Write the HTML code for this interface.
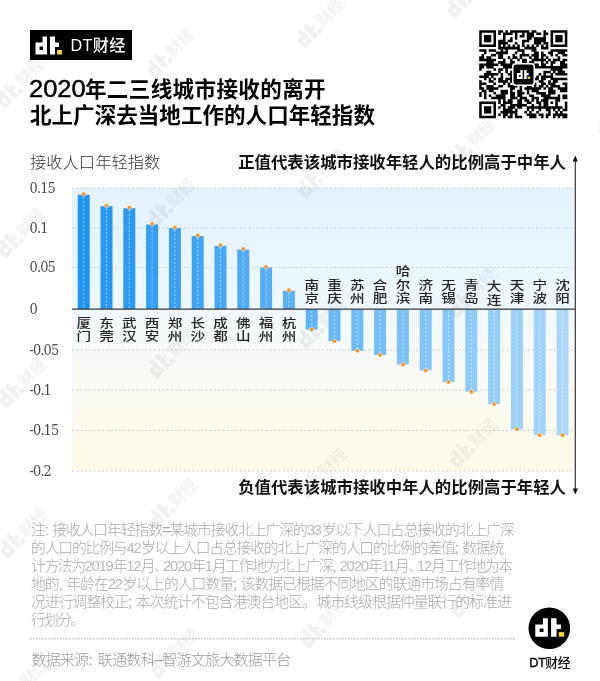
<!DOCTYPE html>
<html lang="zh-CN"><head><meta charset="utf-8"><title>DT财经</title>
<style>
html,body{margin:0;padding:0;background:#fff}
body{width:600px;height:681px;position:relative;overflow:hidden;font-family:"Liberation Sans","Noto Sans CJK SC",sans-serif;color:#000}
.abs{position:absolute;white-space:nowrap}
#badge{left:30px;top:30px;width:102px;height:30px;background:#000}
#badge span{position:absolute;left:40.5px;top:0;line-height:30.5px;font-size:16.2px;color:#fff;font-weight:500;letter-spacing:0.35px}
.tt{left:30px;font-size:21.5px;line-height:26px;font-weight:700}
#t1{top:76.8px;letter-spacing:0.42px}
#t2{top:102.8px;letter-spacing:0.06px}
#t1 b{display:inline-block;font-size:23.2px;line-height:20px;transform:scaleX(1.10);transform-origin:0 50%;margin-left:-1px;margin-right:4.3px;font-weight:400;letter-spacing:0;-webkit-text-stroke:0.45px #000}
#ylab{left:30px;top:150px;font-size:16.3px;line-height:24px;font-weight:300;color:#333}
.ann{font-size:16.4px;line-height:24px;font-weight:700;color:#111}
#ann1{right:34px;top:150px}
#ann2{right:34px;top:475px}
.nl{left:31px;height:18px;font-size:14.8px;line-height:18px;font-weight:300;color:#a9a9a9;letter-spacing:-1.7px;text-align:justify;text-align-last:justify;text-justify:inter-character;white-space:nowrap;overflow:visible;word-spacing:2px}
.nl i{font-style:normal;color:#b9b9b9;letter-spacing:-1.2px}
.nl u{text-decoration:none;margin-right:-4.5px}
#src{left:31.5px;top:650px;width:258.5px;font-size:15px;line-height:20px;font-weight:300;color:#999;letter-spacing:-1.2px;text-align:justify;text-align-last:justify;text-justify:inter-character;word-spacing:3px}
#brand b{font-weight:400;-webkit-text-stroke:0.35px #000}
#src b{font-weight:300;position:relative;top:-1.5px}
#brand{left:519.6px;top:653.2px;width:60px;text-align:center;font-size:12.8px;line-height:20px;font-weight:500;letter-spacing:-0.5px}
svg{position:absolute;left:0;top:0}
.yl{font-family:"DejaVu Serif","Liberation Serif",serif;font-stretch:condensed;font-size:14.4px;fill:#484848;letter-spacing:-0.9px}
.cl{font-size:14px;fill:#222;font-weight:500;text-anchor:middle}
.wm{font-size:16px;font-weight:700}
</style></head><body>

<svg width="600" height="681" viewBox="0 0 600 681">
<defs>
<linearGradient id="gt" x1="0" y1="0" x2="0" y2="1"><stop offset="0" stop-color="#e3f2fd"/><stop offset="1" stop-color="#eef7fd"/></linearGradient>
<linearGradient id="gb" x1="0" y1="0" x2="0" y2="1"><stop offset="0" stop-color="#f1f8fc"/><stop offset="0.45" stop-color="#fbfbf5"/><stop offset="1" stop-color="#fffae8"/></linearGradient>
</defs>
<rect x="72" y="188" width="502" height="121.2" fill="url(#gt)"/>
<rect x="72" y="309.2" width="502" height="161.8" fill="url(#gb)"/>
<line x1="72" x2="574" y1="188" y2="188" stroke="#c3cacf" stroke-width="0.9" stroke-dasharray="2 2.3"/>
<line x1="72" x2="574" y1="228" y2="228" stroke="#c3cacf" stroke-width="0.9" stroke-dasharray="2 2.3"/>
<line x1="72" x2="574" y1="267.5" y2="267.5" stroke="#c3cacf" stroke-width="0.9" stroke-dasharray="2 2.3"/>
<line x1="72" x2="574" y1="350" y2="350" stroke="#c3cacf" stroke-width="0.9" stroke-dasharray="2 2.3"/>
<line x1="72" x2="574" y1="390" y2="390" stroke="#c3cacf" stroke-width="0.9" stroke-dasharray="2 2.3"/>
<line x1="72" x2="574" y1="430.5" y2="430.5" stroke="#c3cacf" stroke-width="0.9" stroke-dasharray="2 2.3"/>
<line x1="72" x2="574" y1="471" y2="471" stroke="#c3cacf" stroke-width="0.9" stroke-dasharray="2 2.3"/>
<g id="wms">
<g transform="translate(-1 103) rotate(-45)" fill="#000" fill-opacity="0.05"><path d="M6.79 -9.00h4.37v17.46h-11.15v-11.64h6.79zM3.88 0.70v3.40h3.40v-3.40z" fill="#000" fill-rule="evenodd"/><path d="M14.06 -9.00h4.85v5.82h3.88v4.37h-3.88v7.27h-4.85z" fill="#000"/><rect x="20.86" y="4.09" width="4.85" height="4.37" fill="#000"/><text class="wm" x="27.5" y="6">财经</text></g>
<g transform="translate(0 253) rotate(-45)" fill="#000" fill-opacity="0.05"><path d="M6.79 -9.00h4.37v17.46h-11.15v-11.64h6.79zM3.88 0.70v3.40h3.40v-3.40z" fill="#000" fill-rule="evenodd"/><path d="M14.06 -9.00h4.85v5.82h3.88v4.37h-3.88v7.27h-4.85z" fill="#000"/><rect x="20.86" y="4.09" width="4.85" height="4.37" fill="#000"/><text class="wm" x="27.5" y="6">财经</text></g>
<g transform="translate(1 403) rotate(-45)" fill="#000" fill-opacity="0.05"><path d="M6.79 -9.00h4.37v17.46h-11.15v-11.64h6.79zM3.88 0.70v3.40h3.40v-3.40z" fill="#000" fill-rule="evenodd"/><path d="M14.06 -9.00h4.85v5.82h3.88v4.37h-3.88v7.27h-4.85z" fill="#000"/><rect x="20.86" y="4.09" width="4.85" height="4.37" fill="#000"/><text class="wm" x="27.5" y="6">财经</text></g>
<g transform="translate(2 553) rotate(-45)" fill="#000" fill-opacity="0.05"><path d="M6.79 -9.00h4.37v17.46h-11.15v-11.64h6.79zM3.88 0.70v3.40h3.40v-3.40z" fill="#000" fill-rule="evenodd"/><path d="M14.06 -9.00h4.85v5.82h3.88v4.37h-3.88v7.27h-4.85z" fill="#000"/><rect x="20.86" y="4.09" width="4.85" height="4.37" fill="#000"/><text class="wm" x="27.5" y="6">财经</text></g>
<g transform="translate(3 703) rotate(-45)" fill="#000" fill-opacity="0.05"><path d="M6.79 -9.00h4.37v17.46h-11.15v-11.64h6.79zM3.88 0.70v3.40h3.40v-3.40z" fill="#000" fill-rule="evenodd"/><path d="M14.06 -9.00h4.85v5.82h3.88v4.37h-3.88v7.27h-4.85z" fill="#000"/><rect x="20.86" y="4.09" width="4.85" height="4.37" fill="#000"/><text class="wm" x="27.5" y="6">财经</text></g>
<g transform="translate(149 73) rotate(-45)" fill="#000" fill-opacity="0.05"><path d="M6.79 -9.00h4.37v17.46h-11.15v-11.64h6.79zM3.88 0.70v3.40h3.40v-3.40z" fill="#000" fill-rule="evenodd"/><path d="M14.06 -9.00h4.85v5.82h3.88v4.37h-3.88v7.27h-4.85z" fill="#000"/><rect x="20.86" y="4.09" width="4.85" height="4.37" fill="#000"/><text class="wm" x="27.5" y="6">财经</text></g>
<g transform="translate(150 223) rotate(-45)" fill="#000" fill-opacity="0.05"><path d="M6.79 -9.00h4.37v17.46h-11.15v-11.64h6.79zM3.88 0.70v3.40h3.40v-3.40z" fill="#000" fill-rule="evenodd"/><path d="M14.06 -9.00h4.85v5.82h3.88v4.37h-3.88v7.27h-4.85z" fill="#000"/><rect x="20.86" y="4.09" width="4.85" height="4.37" fill="#000"/><text class="wm" x="27.5" y="6">财经</text></g>
<g transform="translate(151 373) rotate(-45)" fill="#000" fill-opacity="0.05"><path d="M6.79 -9.00h4.37v17.46h-11.15v-11.64h6.79zM3.88 0.70v3.40h3.40v-3.40z" fill="#000" fill-rule="evenodd"/><path d="M14.06 -9.00h4.85v5.82h3.88v4.37h-3.88v7.27h-4.85z" fill="#000"/><rect x="20.86" y="4.09" width="4.85" height="4.37" fill="#000"/><text class="wm" x="27.5" y="6">财经</text></g>
<g transform="translate(152 523) rotate(-45)" fill="#000" fill-opacity="0.05"><path d="M6.79 -9.00h4.37v17.46h-11.15v-11.64h6.79zM3.88 0.70v3.40h3.40v-3.40z" fill="#000" fill-rule="evenodd"/><path d="M14.06 -9.00h4.85v5.82h3.88v4.37h-3.88v7.27h-4.85z" fill="#000"/><rect x="20.86" y="4.09" width="4.85" height="4.37" fill="#000"/><text class="wm" x="27.5" y="6">财经</text></g>
<g transform="translate(153 673) rotate(-45)" fill="#000" fill-opacity="0.05"><path d="M6.79 -9.00h4.37v17.46h-11.15v-11.64h6.79zM3.88 0.70v3.40h3.40v-3.40z" fill="#000" fill-rule="evenodd"/><path d="M14.06 -9.00h4.85v5.82h3.88v4.37h-3.88v7.27h-4.85z" fill="#000"/><rect x="20.86" y="4.09" width="4.85" height="4.37" fill="#000"/><text class="wm" x="27.5" y="6">财经</text></g>
<g transform="translate(299 43) rotate(-45)" fill="#000" fill-opacity="0.05"><path d="M6.79 -9.00h4.37v17.46h-11.15v-11.64h6.79zM3.88 0.70v3.40h3.40v-3.40z" fill="#000" fill-rule="evenodd"/><path d="M14.06 -9.00h4.85v5.82h3.88v4.37h-3.88v7.27h-4.85z" fill="#000"/><rect x="20.86" y="4.09" width="4.85" height="4.37" fill="#000"/><text class="wm" x="27.5" y="6">财经</text></g>
<g transform="translate(300 193) rotate(-45)" fill="#000" fill-opacity="0.05"><path d="M6.79 -9.00h4.37v17.46h-11.15v-11.64h6.79zM3.88 0.70v3.40h3.40v-3.40z" fill="#000" fill-rule="evenodd"/><path d="M14.06 -9.00h4.85v5.82h3.88v4.37h-3.88v7.27h-4.85z" fill="#000"/><rect x="20.86" y="4.09" width="4.85" height="4.37" fill="#000"/><text class="wm" x="27.5" y="6">财经</text></g>
<g transform="translate(301 343) rotate(-45)" fill="#000" fill-opacity="0.05"><path d="M6.79 -9.00h4.37v17.46h-11.15v-11.64h6.79zM3.88 0.70v3.40h3.40v-3.40z" fill="#000" fill-rule="evenodd"/><path d="M14.06 -9.00h4.85v5.82h3.88v4.37h-3.88v7.27h-4.85z" fill="#000"/><rect x="20.86" y="4.09" width="4.85" height="4.37" fill="#000"/><text class="wm" x="27.5" y="6">财经</text></g>
<g transform="translate(302 493) rotate(-45)" fill="#000" fill-opacity="0.05"><path d="M6.79 -9.00h4.37v17.46h-11.15v-11.64h6.79zM3.88 0.70v3.40h3.40v-3.40z" fill="#000" fill-rule="evenodd"/><path d="M14.06 -9.00h4.85v5.82h3.88v4.37h-3.88v7.27h-4.85z" fill="#000"/><rect x="20.86" y="4.09" width="4.85" height="4.37" fill="#000"/><text class="wm" x="27.5" y="6">财经</text></g>
<g transform="translate(303 643) rotate(-45)" fill="#000" fill-opacity="0.05"><path d="M6.79 -9.00h4.37v17.46h-11.15v-11.64h6.79zM3.88 0.70v3.40h3.40v-3.40z" fill="#000" fill-rule="evenodd"/><path d="M14.06 -9.00h4.85v5.82h3.88v4.37h-3.88v7.27h-4.85z" fill="#000"/><rect x="20.86" y="4.09" width="4.85" height="4.37" fill="#000"/><text class="wm" x="27.5" y="6">财经</text></g>
<g transform="translate(449 13) rotate(-45)" fill="#000" fill-opacity="0.05"><path d="M6.79 -9.00h4.37v17.46h-11.15v-11.64h6.79zM3.88 0.70v3.40h3.40v-3.40z" fill="#000" fill-rule="evenodd"/><path d="M14.06 -9.00h4.85v5.82h3.88v4.37h-3.88v7.27h-4.85z" fill="#000"/><rect x="20.86" y="4.09" width="4.85" height="4.37" fill="#000"/><text class="wm" x="27.5" y="6">财经</text></g>
<g transform="translate(450 163) rotate(-45)" fill="#000" fill-opacity="0.05"><path d="M6.79 -9.00h4.37v17.46h-11.15v-11.64h6.79zM3.88 0.70v3.40h3.40v-3.40z" fill="#000" fill-rule="evenodd"/><path d="M14.06 -9.00h4.85v5.82h3.88v4.37h-3.88v7.27h-4.85z" fill="#000"/><rect x="20.86" y="4.09" width="4.85" height="4.37" fill="#000"/><text class="wm" x="27.5" y="6">财经</text></g>
<g transform="translate(451 313) rotate(-45)" fill="#000" fill-opacity="0.05"><path d="M6.79 -9.00h4.37v17.46h-11.15v-11.64h6.79zM3.88 0.70v3.40h3.40v-3.40z" fill="#000" fill-rule="evenodd"/><path d="M14.06 -9.00h4.85v5.82h3.88v4.37h-3.88v7.27h-4.85z" fill="#000"/><rect x="20.86" y="4.09" width="4.85" height="4.37" fill="#000"/><text class="wm" x="27.5" y="6">财经</text></g>
<g transform="translate(452 463) rotate(-45)" fill="#000" fill-opacity="0.05"><path d="M6.79 -9.00h4.37v17.46h-11.15v-11.64h6.79zM3.88 0.70v3.40h3.40v-3.40z" fill="#000" fill-rule="evenodd"/><path d="M14.06 -9.00h4.85v5.82h3.88v4.37h-3.88v7.27h-4.85z" fill="#000"/><rect x="20.86" y="4.09" width="4.85" height="4.37" fill="#000"/><text class="wm" x="27.5" y="6">财经</text></g>
<g transform="translate(453 613) rotate(-45)" fill="#000" fill-opacity="0.05"><path d="M6.79 -9.00h4.37v17.46h-11.15v-11.64h6.79zM3.88 0.70v3.40h3.40v-3.40z" fill="#000" fill-rule="evenodd"/><path d="M14.06 -9.00h4.85v5.82h3.88v4.37h-3.88v7.27h-4.85z" fill="#000"/><rect x="20.86" y="4.09" width="4.85" height="4.37" fill="#000"/><text class="wm" x="27.5" y="6">财经</text></g>
<g transform="translate(599 -17) rotate(-45)" fill="#000" fill-opacity="0.05"><path d="M6.79 -9.00h4.37v17.46h-11.15v-11.64h6.79zM3.88 0.70v3.40h3.40v-3.40z" fill="#000" fill-rule="evenodd"/><path d="M14.06 -9.00h4.85v5.82h3.88v4.37h-3.88v7.27h-4.85z" fill="#000"/><rect x="20.86" y="4.09" width="4.85" height="4.37" fill="#000"/><text class="wm" x="27.5" y="6">财经</text></g>
<g transform="translate(600 133) rotate(-45)" fill="#000" fill-opacity="0.05"><path d="M6.79 -9.00h4.37v17.46h-11.15v-11.64h6.79zM3.88 0.70v3.40h3.40v-3.40z" fill="#000" fill-rule="evenodd"/><path d="M14.06 -9.00h4.85v5.82h3.88v4.37h-3.88v7.27h-4.85z" fill="#000"/><rect x="20.86" y="4.09" width="4.85" height="4.37" fill="#000"/><text class="wm" x="27.5" y="6">财经</text></g>
<g transform="translate(601 283) rotate(-45)" fill="#000" fill-opacity="0.05"><path d="M6.79 -9.00h4.37v17.46h-11.15v-11.64h6.79zM3.88 0.70v3.40h3.40v-3.40z" fill="#000" fill-rule="evenodd"/><path d="M14.06 -9.00h4.85v5.82h3.88v4.37h-3.88v7.27h-4.85z" fill="#000"/><rect x="20.86" y="4.09" width="4.85" height="4.37" fill="#000"/><text class="wm" x="27.5" y="6">财经</text></g>
<g transform="translate(602 433) rotate(-45)" fill="#000" fill-opacity="0.05"><path d="M6.79 -9.00h4.37v17.46h-11.15v-11.64h6.79zM3.88 0.70v3.40h3.40v-3.40z" fill="#000" fill-rule="evenodd"/><path d="M14.06 -9.00h4.85v5.82h3.88v4.37h-3.88v7.27h-4.85z" fill="#000"/><rect x="20.86" y="4.09" width="4.85" height="4.37" fill="#000"/><text class="wm" x="27.5" y="6">财经</text></g>
<g transform="translate(603 583) rotate(-45)" fill="#000" fill-opacity="0.05"><path d="M6.79 -9.00h4.37v17.46h-11.15v-11.64h6.79zM3.88 0.70v3.40h3.40v-3.40z" fill="#000" fill-rule="evenodd"/><path d="M14.06 -9.00h4.85v5.82h3.88v4.37h-3.88v7.27h-4.85z" fill="#000"/><rect x="20.86" y="4.09" width="4.85" height="4.37" fill="#000"/><text class="wm" x="27.5" y="6">财经</text></g>
<g transform="translate(604 733) rotate(-45)" fill="#000" fill-opacity="0.05"><path d="M6.79 -9.00h4.37v17.46h-11.15v-11.64h6.79zM3.88 0.70v3.40h3.40v-3.40z" fill="#000" fill-rule="evenodd"/><path d="M14.06 -9.00h4.85v5.82h3.88v4.37h-3.88v7.27h-4.85z" fill="#000"/><rect x="20.86" y="4.09" width="4.85" height="4.37" fill="#000"/><text class="wm" x="27.5" y="6">财经</text></g>
</g>
<rect x="77.70" y="194.80" width="12" height="114.40" fill="#2095f3"/>
<line x1="83.70" x2="83.70" y1="196.80" y2="309.20" stroke="#fff" stroke-opacity="0.7" stroke-width="0.85" stroke-dasharray="2 2"/>
<rect x="100.50" y="206.20" width="12" height="103.00" fill="#2798f3"/>
<line x1="106.50" x2="106.50" y1="208.20" y2="309.20" stroke="#fff" stroke-opacity="0.7" stroke-width="0.85" stroke-dasharray="2 2"/>
<rect x="123.30" y="208.20" width="12" height="101.00" fill="#2d9bf4"/>
<line x1="129.30" x2="129.30" y1="210.20" y2="309.20" stroke="#fff" stroke-opacity="0.7" stroke-width="0.85" stroke-dasharray="2 2"/>
<rect x="146.10" y="224.50" width="12" height="84.70" fill="#349ef4"/>
<line x1="152.10" x2="152.10" y1="226.50" y2="309.20" stroke="#fff" stroke-opacity="0.7" stroke-width="0.85" stroke-dasharray="2 2"/>
<rect x="168.90" y="228.00" width="12" height="81.20" fill="#3aa2f5"/>
<line x1="174.90" x2="174.90" y1="230.00" y2="309.20" stroke="#fff" stroke-opacity="0.7" stroke-width="0.85" stroke-dasharray="2 2"/>
<rect x="191.70" y="236.00" width="12" height="73.20" fill="#41a5f5"/>
<line x1="197.70" x2="197.70" y1="238.00" y2="309.20" stroke="#fff" stroke-opacity="0.7" stroke-width="0.85" stroke-dasharray="2 2"/>
<rect x="214.50" y="245.80" width="12" height="63.40" fill="#47a8f5"/>
<line x1="220.50" x2="220.50" y1="247.80" y2="309.20" stroke="#fff" stroke-opacity="0.7" stroke-width="0.85" stroke-dasharray="2 2"/>
<rect x="237.30" y="249.50" width="12" height="59.70" fill="#4eabf6"/>
<line x1="243.30" x2="243.30" y1="251.50" y2="309.20" stroke="#fff" stroke-opacity="0.7" stroke-width="0.85" stroke-dasharray="2 2"/>
<rect x="260.10" y="267.50" width="12" height="41.70" fill="#55aef6"/>
<line x1="266.10" x2="266.10" y1="269.50" y2="309.20" stroke="#fff" stroke-opacity="0.7" stroke-width="0.85" stroke-dasharray="2 2"/>
<rect x="282.90" y="290.80" width="12" height="18.40" fill="#5bb1f6"/>
<line x1="288.90" x2="288.90" y1="292.80" y2="309.20" stroke="#fff" stroke-opacity="0.7" stroke-width="0.85" stroke-dasharray="2 2"/>
<rect x="305.70" y="309.20" width="12" height="20.30" fill="#62b4f7"/>
<line x1="311.70" x2="311.70" y1="311.20" y2="329.50" stroke="#fff" stroke-opacity="0.7" stroke-width="0.85" stroke-dasharray="2 2"/>
<rect x="328.50" y="309.20" width="12" height="32.00" fill="#68b8f7"/>
<line x1="334.50" x2="334.50" y1="311.20" y2="341.20" stroke="#fff" stroke-opacity="0.7" stroke-width="0.85" stroke-dasharray="2 2"/>
<rect x="351.30" y="309.20" width="12" height="41.60" fill="#6fbbf8"/>
<line x1="357.30" x2="357.30" y1="311.20" y2="350.80" stroke="#fff" stroke-opacity="0.7" stroke-width="0.85" stroke-dasharray="2 2"/>
<rect x="374.10" y="309.20" width="12" height="45.80" fill="#75bef8"/>
<line x1="380.10" x2="380.10" y1="311.20" y2="355.00" stroke="#fff" stroke-opacity="0.7" stroke-width="0.85" stroke-dasharray="2 2"/>
<rect x="396.90" y="309.20" width="12" height="55.30" fill="#7cc1f8"/>
<line x1="402.90" x2="402.90" y1="311.20" y2="364.50" stroke="#fff" stroke-opacity="0.7" stroke-width="0.85" stroke-dasharray="2 2"/>
<rect x="419.70" y="309.20" width="12" height="61.30" fill="#83c4f9"/>
<line x1="425.70" x2="425.70" y1="311.20" y2="370.50" stroke="#fff" stroke-opacity="0.7" stroke-width="0.85" stroke-dasharray="2 2"/>
<rect x="442.50" y="309.20" width="12" height="72.90" fill="#89c7f9"/>
<line x1="448.50" x2="448.50" y1="311.20" y2="382.10" stroke="#fff" stroke-opacity="0.7" stroke-width="0.85" stroke-dasharray="2 2"/>
<rect x="465.30" y="309.20" width="12" height="82.60" fill="#90caf9"/>
<line x1="471.30" x2="471.30" y1="311.20" y2="391.80" stroke="#fff" stroke-opacity="0.7" stroke-width="0.85" stroke-dasharray="2 2"/>
<rect x="488.10" y="309.20" width="12" height="95.00" fill="#96cefa"/>
<line x1="494.10" x2="494.10" y1="311.20" y2="404.20" stroke="#fff" stroke-opacity="0.7" stroke-width="0.85" stroke-dasharray="2 2"/>
<rect x="510.90" y="309.20" width="12" height="120.10" fill="#9dd1fa"/>
<line x1="516.90" x2="516.90" y1="311.20" y2="429.30" stroke="#fff" stroke-opacity="0.7" stroke-width="0.85" stroke-dasharray="2 2"/>
<rect x="533.70" y="309.20" width="12" height="126.00" fill="#a3d4fb"/>
<line x1="539.70" x2="539.70" y1="311.20" y2="435.20" stroke="#fff" stroke-opacity="0.7" stroke-width="0.85" stroke-dasharray="2 2"/>
<rect x="556.50" y="309.20" width="12" height="126.00" fill="#aad7fb"/>
<line x1="562.50" x2="562.50" y1="311.20" y2="435.20" stroke="#fff" stroke-opacity="0.7" stroke-width="0.85" stroke-dasharray="2 2"/>
<line x1="72" x2="575" y1="309.2" y2="309.2" stroke="#383838" stroke-width="1.25"/>
<circle cx="83.70" cy="194.20" r="2.15" fill="#f39323" stroke="#fff" stroke-opacity="0.6" stroke-width="0.8"/>
<circle cx="106.50" cy="205.60" r="2.15" fill="#f39323" stroke="#fff" stroke-opacity="0.6" stroke-width="0.8"/>
<circle cx="129.30" cy="207.60" r="2.15" fill="#f39323" stroke="#fff" stroke-opacity="0.6" stroke-width="0.8"/>
<circle cx="152.10" cy="223.90" r="2.15" fill="#f39323" stroke="#fff" stroke-opacity="0.6" stroke-width="0.8"/>
<circle cx="174.90" cy="227.40" r="2.15" fill="#f39323" stroke="#fff" stroke-opacity="0.6" stroke-width="0.8"/>
<circle cx="197.70" cy="235.40" r="2.15" fill="#f39323" stroke="#fff" stroke-opacity="0.6" stroke-width="0.8"/>
<circle cx="220.50" cy="245.20" r="2.15" fill="#f39323" stroke="#fff" stroke-opacity="0.6" stroke-width="0.8"/>
<circle cx="243.30" cy="248.90" r="2.15" fill="#f39323" stroke="#fff" stroke-opacity="0.6" stroke-width="0.8"/>
<circle cx="266.10" cy="266.90" r="2.15" fill="#f39323" stroke="#fff" stroke-opacity="0.6" stroke-width="0.8"/>
<circle cx="288.90" cy="290.20" r="2.15" fill="#f39323" stroke="#fff" stroke-opacity="0.6" stroke-width="0.8"/>
<circle cx="311.70" cy="329.50" r="2.15" fill="#f39323" stroke="#fff" stroke-opacity="0.6" stroke-width="0.8"/>
<circle cx="334.50" cy="341.20" r="2.15" fill="#f39323" stroke="#fff" stroke-opacity="0.6" stroke-width="0.8"/>
<circle cx="357.30" cy="350.80" r="2.15" fill="#f39323" stroke="#fff" stroke-opacity="0.6" stroke-width="0.8"/>
<circle cx="380.10" cy="355.00" r="2.15" fill="#f39323" stroke="#fff" stroke-opacity="0.6" stroke-width="0.8"/>
<circle cx="402.90" cy="364.50" r="2.15" fill="#f39323" stroke="#fff" stroke-opacity="0.6" stroke-width="0.8"/>
<circle cx="425.70" cy="370.50" r="2.15" fill="#f39323" stroke="#fff" stroke-opacity="0.6" stroke-width="0.8"/>
<circle cx="448.50" cy="382.10" r="2.15" fill="#f39323" stroke="#fff" stroke-opacity="0.6" stroke-width="0.8"/>
<circle cx="471.30" cy="391.80" r="2.15" fill="#f39323" stroke="#fff" stroke-opacity="0.6" stroke-width="0.8"/>
<circle cx="494.10" cy="404.20" r="2.15" fill="#f39323" stroke="#fff" stroke-opacity="0.6" stroke-width="0.8"/>
<circle cx="516.90" cy="429.30" r="2.15" fill="#f39323" stroke="#fff" stroke-opacity="0.6" stroke-width="0.8"/>
<circle cx="539.70" cy="435.20" r="2.15" fill="#f39323" stroke="#fff" stroke-opacity="0.6" stroke-width="0.8"/>
<circle cx="562.50" cy="435.20" r="2.15" fill="#f39323" stroke="#fff" stroke-opacity="0.6" stroke-width="0.8"/>
<text class="cl" transform="translate(83.70 328.2) scale(1.04 0.87)">厦</text>
<text class="cl" transform="translate(83.70 341.3) scale(1.04 0.87)">门</text>
<text class="cl" transform="translate(106.50 328.2) scale(1.04 0.87)">东</text>
<text class="cl" transform="translate(106.50 341.3) scale(1.04 0.87)">莞</text>
<text class="cl" transform="translate(129.30 328.2) scale(1.04 0.87)">武</text>
<text class="cl" transform="translate(129.30 341.3) scale(1.04 0.87)">汉</text>
<text class="cl" transform="translate(152.10 328.2) scale(1.04 0.87)">西</text>
<text class="cl" transform="translate(152.10 341.3) scale(1.04 0.87)">安</text>
<text class="cl" transform="translate(174.90 328.2) scale(1.04 0.87)">郑</text>
<text class="cl" transform="translate(174.90 341.3) scale(1.04 0.87)">州</text>
<text class="cl" transform="translate(197.70 328.2) scale(1.04 0.87)">长</text>
<text class="cl" transform="translate(197.70 341.3) scale(1.04 0.87)">沙</text>
<text class="cl" transform="translate(220.50 328.2) scale(1.04 0.87)">成</text>
<text class="cl" transform="translate(220.50 341.3) scale(1.04 0.87)">都</text>
<text class="cl" transform="translate(243.30 328.2) scale(1.04 0.87)">佛</text>
<text class="cl" transform="translate(243.30 341.3) scale(1.04 0.87)">山</text>
<text class="cl" transform="translate(266.10 328.2) scale(1.04 0.87)">福</text>
<text class="cl" transform="translate(266.10 341.3) scale(1.04 0.87)">州</text>
<text class="cl" transform="translate(288.90 328.2) scale(1.04 0.87)">杭</text>
<text class="cl" transform="translate(288.90 341.3) scale(1.04 0.87)">州</text>
<text class="cl" transform="translate(311.70 289.6) scale(1.04 0.87)">南</text>
<text class="cl" transform="translate(311.70 302.9) scale(1.04 0.87)">京</text>
<text class="cl" transform="translate(334.50 289.6) scale(1.04 0.87)">重</text>
<text class="cl" transform="translate(334.50 302.9) scale(1.04 0.87)">庆</text>
<text class="cl" transform="translate(357.30 289.6) scale(1.04 0.87)">苏</text>
<text class="cl" transform="translate(357.30 302.9) scale(1.04 0.87)">州</text>
<text class="cl" transform="translate(380.10 289.6) scale(1.04 0.87)">合</text>
<text class="cl" transform="translate(380.10 302.9) scale(1.04 0.87)">肥</text>
<text class="cl" transform="translate(402.90 276.3) scale(1.04 0.87)">哈</text>
<text class="cl" transform="translate(402.90 289.6) scale(1.04 0.87)">尔</text>
<text class="cl" transform="translate(402.90 302.9) scale(1.04 0.87)">滨</text>
<text class="cl" transform="translate(425.70 289.6) scale(1.04 0.87)">济</text>
<text class="cl" transform="translate(425.70 302.9) scale(1.04 0.87)">南</text>
<text class="cl" transform="translate(448.50 289.6) scale(1.04 0.87)">无</text>
<text class="cl" transform="translate(448.50 302.9) scale(1.04 0.87)">锡</text>
<text class="cl" transform="translate(471.30 289.6) scale(1.04 0.87)">青</text>
<text class="cl" transform="translate(471.30 302.9) scale(1.04 0.87)">岛</text>
<text class="cl" transform="translate(494.10 291.3) scale(1.04 0.87)">大</text>
<text class="cl" transform="translate(494.10 304.6) scale(1.04 0.87)">连</text>
<text class="cl" transform="translate(516.90 289.6) scale(1.04 0.87)">天</text>
<text class="cl" transform="translate(516.90 302.9) scale(1.04 0.87)">津</text>
<text class="cl" transform="translate(539.70 289.6) scale(1.04 0.87)">宁</text>
<text class="cl" transform="translate(539.70 302.9) scale(1.04 0.87)">波</text>
<text class="cl" transform="translate(562.50 289.6) scale(1.04 0.87)">沈</text>
<text class="cl" transform="translate(562.50 302.9) scale(1.04 0.87)">阳</text>
<text class="yl" x="29.6" y="192.7">0.15</text>
<text class="yl" x="29.6" y="232.7">0.1</text>
<text class="yl" x="29.6" y="272.2">0.05</text>
<text class="yl" x="29.6" y="313.9">0</text>
<text class="yl" x="29.6" y="354.7">-0.05</text>
<text class="yl" x="29.6" y="394.7">-0.1</text>
<text class="yl" x="29.6" y="435.2">-0.15</text>
<text class="yl" x="29.6" y="475.7">-0.2</text>
<line x1="575.3" x2="575.3" y1="160" y2="490" stroke="#333" stroke-width="1.2"/>
<path d="M575.3 155.5l2.6 6h-5.2z" fill="#111"/>
<path d="M575.3 494.5l2.6 -6h-5.2z" fill="#111"/>
<rect x="476" y="27" width="94" height="94" fill="#fff"/>
<path d="M479.20 30.20h16.80v2.53h-16.80zM498.23 30.20h4.91v2.53h-4.91zM505.36 30.20h2.53v2.53h-2.53zM510.12 30.20h19.18v2.53h-19.18zM531.52 30.20h4.91v2.53h-4.91zM543.42 30.20h2.53v2.53h-2.53zM550.55 30.20h16.80v2.53h-16.80zM479.20 32.58h2.53v2.53h-2.53zM493.47 32.58h2.53v2.53h-2.53zM498.23 32.58h2.53v2.53h-2.53zM502.98 32.58h9.66v2.53h-9.66zM514.88 32.58h2.53v2.53h-2.53zM522.01 32.58h2.53v2.53h-2.53zM526.77 32.58h7.29v2.53h-7.29zM536.28 32.58h4.91v2.53h-4.91zM543.42 32.58h4.91v2.53h-4.91zM550.55 32.58h2.53v2.53h-2.53zM564.82 32.58h2.53v2.53h-2.53zM479.20 34.96h2.53v2.53h-2.53zM483.96 34.96h7.29v2.53h-7.29zM493.47 34.96h2.53v2.53h-2.53zM502.98 34.96h2.53v2.53h-2.53zM514.88 34.96h2.53v2.53h-2.53zM519.63 34.96h4.91v2.53h-4.91zM526.77 34.96h7.29v2.53h-7.29zM543.42 34.96h2.53v2.53h-2.53zM550.55 34.96h2.53v2.53h-2.53zM555.31 34.96h7.29v2.53h-7.29zM564.82 34.96h2.53v2.53h-2.53zM479.20 37.34h2.53v2.53h-2.53zM483.96 37.34h7.29v2.53h-7.29zM493.47 37.34h2.53v2.53h-2.53zM502.98 37.34h2.53v2.53h-2.53zM510.12 37.34h2.53v2.53h-2.53zM514.88 37.34h2.53v2.53h-2.53zM526.77 37.34h4.91v2.53h-4.91zM533.90 37.34h12.04v2.53h-12.04zM550.55 37.34h2.53v2.53h-2.53zM555.31 37.34h7.29v2.53h-7.29zM564.82 37.34h2.53v2.53h-2.53zM479.20 39.71h2.53v2.53h-2.53zM483.96 39.71h7.29v2.53h-7.29zM493.47 39.71h2.53v2.53h-2.53zM498.23 39.71h7.29v2.53h-7.29zM507.74 39.71h4.91v2.53h-4.91zM522.01 39.71h7.29v2.53h-7.29zM533.90 39.71h12.04v2.53h-12.04zM550.55 39.71h2.53v2.53h-2.53zM555.31 39.71h7.29v2.53h-7.29zM564.82 39.71h2.53v2.53h-2.53zM479.20 42.09h2.53v2.53h-2.53zM493.47 42.09h2.53v2.53h-2.53zM498.23 42.09h9.66v2.53h-9.66zM514.88 42.09h2.53v2.53h-2.53zM522.01 42.09h2.53v2.53h-2.53zM533.90 42.09h7.29v2.53h-7.29zM543.42 42.09h4.91v2.53h-4.91zM550.55 42.09h2.53v2.53h-2.53zM564.82 42.09h2.53v2.53h-2.53zM479.20 44.47h16.80v2.53h-16.80zM498.23 44.47h2.53v2.53h-2.53zM502.98 44.47h2.53v2.53h-2.53zM507.74 44.47h2.53v2.53h-2.53zM512.50 44.47h2.53v2.53h-2.53zM517.25 44.47h2.53v2.53h-2.53zM522.01 44.47h2.53v2.53h-2.53zM526.77 44.47h2.53v2.53h-2.53zM531.52 44.47h2.53v2.53h-2.53zM536.28 44.47h2.53v2.53h-2.53zM541.04 44.47h2.53v2.53h-2.53zM545.79 44.47h2.53v2.53h-2.53zM550.55 44.47h16.80v2.53h-16.80zM498.23 46.85h21.56v2.53h-21.56zM524.39 46.85h12.04v2.53h-12.04zM541.04 46.85h7.29v2.53h-7.29zM479.20 49.23h7.29v2.53h-7.29zM488.71 49.23h7.29v2.53h-7.29zM500.61 49.23h2.53v2.53h-2.53zM505.36 49.23h2.53v2.53h-2.53zM517.25 49.23h7.29v2.53h-7.29zM531.52 49.23h4.91v2.53h-4.91zM550.55 49.23h16.80v2.53h-16.80zM483.96 51.61h2.53v2.53h-2.53zM495.85 51.61h12.04v2.53h-12.04zM514.88 51.61h2.53v2.53h-2.53zM522.01 51.61h2.53v2.53h-2.53zM533.90 51.61h4.91v2.53h-4.91zM541.04 51.61h2.53v2.53h-2.53zM548.17 51.61h4.91v2.53h-4.91zM557.69 51.61h7.29v2.53h-7.29zM481.58 53.98h2.53v2.53h-2.53zM491.09 53.98h4.91v2.53h-4.91zM498.23 53.98h4.91v2.53h-4.91zM512.50 53.98h2.53v2.53h-2.53zM519.63 53.98h9.66v2.53h-9.66zM531.52 53.98h7.29v2.53h-7.29zM541.04 53.98h4.91v2.53h-4.91zM550.55 53.98h2.53v2.53h-2.53zM555.31 53.98h2.53v2.53h-2.53zM562.44 53.98h4.91v2.53h-4.91zM479.20 56.36h4.91v2.53h-4.91zM486.34 56.36h4.91v2.53h-4.91zM498.23 56.36h4.91v2.53h-4.91zM507.74 56.36h2.53v2.53h-2.53zM512.50 56.36h4.91v2.53h-4.91zM519.63 56.36h2.53v2.53h-2.53zM529.15 56.36h2.53v2.53h-2.53zM533.90 56.36h4.91v2.53h-4.91zM541.04 56.36h2.53v2.53h-2.53zM545.79 56.36h2.53v2.53h-2.53zM557.69 56.36h2.53v2.53h-2.53zM479.20 58.74h16.80v2.53h-16.80zM502.98 58.74h2.53v2.53h-2.53zM510.12 58.74h2.53v2.53h-2.53zM517.25 58.74h2.53v2.53h-2.53zM522.01 58.74h4.91v2.53h-4.91zM531.52 58.74h14.42v2.53h-14.42zM548.17 58.74h2.53v2.53h-2.53zM552.93 58.74h7.29v2.53h-7.29zM562.44 58.74h4.91v2.53h-4.91zM486.34 61.12h7.29v2.53h-7.29zM498.23 61.12h7.29v2.53h-7.29zM510.12 61.12h4.91v2.53h-4.91zM522.01 61.12h4.91v2.53h-4.91zM529.15 61.12h4.91v2.53h-4.91zM541.04 61.12h2.53v2.53h-2.53zM545.79 61.12h2.53v2.53h-2.53zM550.55 61.12h4.91v2.53h-4.91zM560.06 61.12h4.91v2.53h-4.91zM479.20 63.50h19.18v2.53h-19.18zM500.61 63.50h16.80v2.53h-16.80zM522.01 63.50h4.91v2.53h-4.91zM529.15 63.50h2.53v2.53h-2.53zM533.90 63.50h4.91v2.53h-4.91zM541.04 63.50h4.91v2.53h-4.91zM550.55 63.50h2.53v2.53h-2.53zM560.06 63.50h7.29v2.53h-7.29zM479.20 65.88h4.91v2.53h-4.91zM486.34 65.88h7.29v2.53h-7.29zM502.98 65.88h16.80v2.53h-16.80zM526.77 65.88h2.53v2.53h-2.53zM531.52 65.88h35.83v2.53h-35.83zM479.20 68.25h2.53v2.53h-2.53zM493.47 68.25h2.53v2.53h-2.53zM498.23 68.25h4.91v2.53h-4.91zM505.36 68.25h2.53v2.53h-2.53zM512.50 68.25h2.53v2.53h-2.53zM526.77 68.25h2.53v2.53h-2.53zM531.52 68.25h2.53v2.53h-2.53zM550.55 68.25h12.04v2.53h-12.04zM486.34 70.63h4.91v2.53h-4.91zM498.23 70.63h2.53v2.53h-2.53zM505.36 70.63h2.53v2.53h-2.53zM510.12 70.63h7.29v2.53h-7.29zM519.63 70.63h2.53v2.53h-2.53zM526.77 70.63h7.29v2.53h-7.29zM543.42 70.63h7.29v2.53h-7.29zM552.93 70.63h2.53v2.53h-2.53zM557.69 70.63h7.29v2.53h-7.29zM483.96 73.01h14.42v2.53h-14.42zM500.61 73.01h2.53v2.53h-2.53zM507.74 73.01h4.91v2.53h-4.91zM517.25 73.01h7.29v2.53h-7.29zM526.77 73.01h2.53v2.53h-2.53zM531.52 73.01h2.53v2.53h-2.53zM538.66 73.01h2.53v2.53h-2.53zM543.42 73.01h2.53v2.53h-2.53zM550.55 73.01h2.53v2.53h-2.53zM555.31 73.01h12.04v2.53h-12.04zM479.20 75.39h9.66v2.53h-9.66zM491.09 75.39h2.53v2.53h-2.53zM500.61 75.39h2.53v2.53h-2.53zM510.12 75.39h7.29v2.53h-7.29zM522.01 75.39h12.04v2.53h-12.04zM536.28 75.39h2.53v2.53h-2.53zM541.04 75.39h12.04v2.53h-12.04zM483.96 77.77h2.53v2.53h-2.53zM488.71 77.77h2.53v2.53h-2.53zM493.47 77.77h2.53v2.53h-2.53zM498.23 77.77h4.91v2.53h-4.91zM505.36 77.77h9.66v2.53h-9.66zM519.63 77.77h2.53v2.53h-2.53zM524.39 77.77h2.53v2.53h-2.53zM529.15 77.77h9.66v2.53h-9.66zM541.04 77.77h4.91v2.53h-4.91zM550.55 77.77h16.80v2.53h-16.80zM479.20 80.15h2.53v2.53h-2.53zM488.71 80.15h4.91v2.53h-4.91zM498.23 80.15h9.66v2.53h-9.66zM510.12 80.15h4.91v2.53h-4.91zM519.63 80.15h12.04v2.53h-12.04zM538.66 80.15h4.91v2.53h-4.91zM548.17 80.15h2.53v2.53h-2.53zM552.93 80.15h4.91v2.53h-4.91zM479.20 82.52h7.29v2.53h-7.29zM493.47 82.52h2.53v2.53h-2.53zM502.98 82.52h2.53v2.53h-2.53zM507.74 82.52h2.53v2.53h-2.53zM512.50 82.52h2.53v2.53h-2.53zM519.63 82.52h7.29v2.53h-7.29zM531.52 82.52h4.91v2.53h-4.91zM541.04 82.52h4.91v2.53h-4.91zM548.17 82.52h7.29v2.53h-7.29zM562.44 82.52h4.91v2.53h-4.91zM479.20 84.90h2.53v2.53h-2.53zM486.34 84.90h7.29v2.53h-7.29zM498.23 84.90h4.91v2.53h-4.91zM507.74 84.90h9.66v2.53h-9.66zM519.63 84.90h2.53v2.53h-2.53zM526.77 84.90h4.91v2.53h-4.91zM533.90 84.90h2.53v2.53h-2.53zM538.66 84.90h4.91v2.53h-4.91zM545.79 84.90h2.53v2.53h-2.53zM550.55 84.90h9.66v2.53h-9.66zM564.82 84.90h2.53v2.53h-2.53zM479.20 87.28h4.91v2.53h-4.91zM486.34 87.28h12.04v2.53h-12.04zM510.12 87.28h4.91v2.53h-4.91zM519.63 87.28h2.53v2.53h-2.53zM524.39 87.28h16.80v2.53h-16.80zM543.42 87.28h2.53v2.53h-2.53zM548.17 87.28h4.91v2.53h-4.91zM557.69 87.28h9.66v2.53h-9.66zM481.58 89.66h4.91v2.53h-4.91zM488.71 89.66h4.91v2.53h-4.91zM500.61 89.66h7.29v2.53h-7.29zM510.12 89.66h2.53v2.53h-2.53zM517.25 89.66h4.91v2.53h-4.91zM526.77 89.66h2.53v2.53h-2.53zM531.52 89.66h7.29v2.53h-7.29zM548.17 89.66h7.29v2.53h-7.29zM560.06 89.66h7.29v2.53h-7.29zM479.20 92.04h2.53v2.53h-2.53zM483.96 92.04h2.53v2.53h-2.53zM493.47 92.04h2.53v2.53h-2.53zM500.61 92.04h7.29v2.53h-7.29zM510.12 92.04h4.91v2.53h-4.91zM517.25 92.04h7.29v2.53h-7.29zM526.77 92.04h2.53v2.53h-2.53zM536.28 92.04h9.66v2.53h-9.66zM548.17 92.04h7.29v2.53h-7.29zM479.20 94.42h2.53v2.53h-2.53zM483.96 94.42h2.53v2.53h-2.53zM488.71 94.42h2.53v2.53h-2.53zM495.85 94.42h9.66v2.53h-9.66zM510.12 94.42h4.91v2.53h-4.91zM517.25 94.42h4.91v2.53h-4.91zM529.15 94.42h4.91v2.53h-4.91zM541.04 94.42h9.66v2.53h-9.66zM557.69 94.42h2.53v2.53h-2.53zM562.44 94.42h4.91v2.53h-4.91zM483.96 96.79h2.53v2.53h-2.53zM491.09 96.79h14.42v2.53h-14.42zM510.12 96.79h7.29v2.53h-7.29zM519.63 96.79h7.29v2.53h-7.29zM531.52 96.79h7.29v2.53h-7.29zM543.42 96.79h16.80v2.53h-16.80zM562.44 96.79h4.91v2.53h-4.91zM498.23 99.17h2.53v2.53h-2.53zM502.98 99.17h2.53v2.53h-2.53zM507.74 99.17h4.91v2.53h-4.91zM517.25 99.17h4.91v2.53h-4.91zM524.39 99.17h4.91v2.53h-4.91zM531.52 99.17h2.53v2.53h-2.53zM536.28 99.17h2.53v2.53h-2.53zM541.04 99.17h7.29v2.53h-7.29zM555.31 99.17h4.91v2.53h-4.91zM479.20 101.55h16.80v2.53h-16.80zM498.23 101.55h2.53v2.53h-2.53zM502.98 101.55h9.66v2.53h-9.66zM517.25 101.55h4.91v2.53h-4.91zM526.77 101.55h4.91v2.53h-4.91zM536.28 101.55h4.91v2.53h-4.91zM543.42 101.55h4.91v2.53h-4.91zM550.55 101.55h2.53v2.53h-2.53zM555.31 101.55h2.53v2.53h-2.53zM564.82 101.55h2.53v2.53h-2.53zM479.20 103.93h2.53v2.53h-2.53zM493.47 103.93h2.53v2.53h-2.53zM500.61 103.93h4.91v2.53h-4.91zM510.12 103.93h16.80v2.53h-16.80zM531.52 103.93h2.53v2.53h-2.53zM538.66 103.93h2.53v2.53h-2.53zM543.42 103.93h4.91v2.53h-4.91zM555.31 103.93h2.53v2.53h-2.53zM564.82 103.93h2.53v2.53h-2.53zM479.20 106.31h2.53v2.53h-2.53zM483.96 106.31h7.29v2.53h-7.29zM493.47 106.31h2.53v2.53h-2.53zM498.23 106.31h2.53v2.53h-2.53zM502.98 106.31h2.53v2.53h-2.53zM507.74 106.31h7.29v2.53h-7.29zM517.25 106.31h4.91v2.53h-4.91zM526.77 106.31h35.83v2.53h-35.83zM564.82 106.31h2.53v2.53h-2.53zM479.20 108.69h2.53v2.53h-2.53zM483.96 108.69h7.29v2.53h-7.29zM493.47 108.69h2.53v2.53h-2.53zM502.98 108.69h9.66v2.53h-9.66zM514.88 108.69h2.53v2.53h-2.53zM526.77 108.69h2.53v2.53h-2.53zM531.52 108.69h2.53v2.53h-2.53zM538.66 108.69h2.53v2.53h-2.53zM545.79 108.69h4.91v2.53h-4.91zM552.93 108.69h2.53v2.53h-2.53zM557.69 108.69h2.53v2.53h-2.53zM562.44 108.69h4.91v2.53h-4.91zM479.20 111.06h2.53v2.53h-2.53zM483.96 111.06h7.29v2.53h-7.29zM493.47 111.06h2.53v2.53h-2.53zM500.61 111.06h16.80v2.53h-16.80zM524.39 111.06h2.53v2.53h-2.53zM529.15 111.06h2.53v2.53h-2.53zM536.28 111.06h2.53v2.53h-2.53zM548.17 111.06h2.53v2.53h-2.53zM555.31 111.06h2.53v2.53h-2.53zM560.06 111.06h2.53v2.53h-2.53zM479.20 113.44h2.53v2.53h-2.53zM493.47 113.44h2.53v2.53h-2.53zM498.23 113.44h2.53v2.53h-2.53zM502.98 113.44h4.91v2.53h-4.91zM510.12 113.44h2.53v2.53h-2.53zM514.88 113.44h2.53v2.53h-2.53zM526.77 113.44h9.66v2.53h-9.66zM538.66 113.44h4.91v2.53h-4.91zM545.79 113.44h4.91v2.53h-4.91zM552.93 113.44h14.42v2.53h-14.42zM479.20 115.82h16.80v2.53h-16.80zM502.98 115.82h2.53v2.53h-2.53zM507.74 115.82h4.91v2.53h-4.91zM514.88 115.82h7.29v2.53h-7.29zM529.15 115.82h7.29v2.53h-7.29zM541.04 115.82h2.53v2.53h-2.53zM545.79 115.82h2.53v2.53h-2.53zM552.93 115.82h2.53v2.53h-2.53zM557.69 115.82h2.53v2.53h-2.53zM562.44 115.82h4.91v2.53h-4.91z" fill="#000"/>
<rect x="512" y="63" width="23" height="23" rx="3.5" fill="#fff"/>
<rect x="513.5" y="64.5" width="20" height="20" rx="2.8" fill="#000"/>
<path d="M520.40 69.90h2.25v9.00h-5.75v-6.00h3.50zM518.90 74.90v1.75h1.75v-1.75z" fill="#fff" fill-rule="evenodd"/><path d="M524.15 69.90h2.50v3.00h2.00v2.25h-2.00v3.75h-2.50z" fill="#fff"/><rect x="527.65" y="76.65" width="2.50" height="2.25" fill="#f7d336"/>
<line x1="30" x2="515" y1="638.7" y2="638.7" stroke="#c4c4c4" stroke-width="1.6" stroke-dasharray="1.5 1.5"/>
<circle cx="549.3" cy="628.3" r="20.8" fill="#000"/>
<path d="M542.93 618.30h4.91v18.36h-12.54v-12.24h7.63zM539.66 628.50v3.57h3.82v-3.57z" fill="#fff" fill-rule="evenodd"/><path d="M551.10 618.30h5.45v6.12h4.36v4.59h-4.36v7.65h-5.45z" fill="#fff"/><rect x="558.73" y="632.07" width="5.45" height="4.59" fill="#f7d336"/>
</svg>
<div class="abs" id="badge"><svg width="102" height="30" viewBox="30 30 102 30"><path d="M42.50 36.50h4.50v18.00h-11.50v-12.00h7.00zM39.50 46.50v3.50h3.50v-3.50z" fill="#fff" fill-rule="evenodd"/><path d="M50.00 36.50h5.00v6.00h4.00v4.50h-4.00v7.50h-5.00z" fill="#fff"/><rect x="57.00" y="50.00" width="5.00" height="4.50" fill="#f7d336"/></svg><span>DT财经</span></div>
<div class="abs tt" id="t1"><b>2020</b>年二三线城市接收的离开</div>
<div class="abs tt" id="t2">北上广深去当地工作的人口年轻指数</div>
<div class="abs" id="ylab">接收人口年轻指数</div>
<div class="abs ann" id="ann1">正值代表该城市接收年轻人的比例高于中年人</div>
<div class="abs ann" id="ann2">负值代表该城市接收中年人的比例高于年轻人</div>
<div class="abs nl" style="top:521.3px;width:482.0px">注: 接收人口年轻指数=某城市接收北上广深的<i>33</i>岁以下人口占总接收的北上广深</div>
<div class="abs nl" style="top:539.2px;width:471.5px">的人口的比例与<i>42</i>岁以上人口占总接收的北上广深的人口的比例的差值; 数据统</div>
<div class="abs nl" style="top:557.1px;width:480.3px">计方法为<i>2019</i>年<i>12</i>月<u>、</u><i>2020</i>年<i>1</i>月工作地为北上广深, <i>2020</i>年<i>11</i>月<u>、</u><i>12</i>月工作地为本</div>
<div class="abs nl" style="top:575.0px;width:471.5px">地的, 年龄在<i>22</i>岁以上的人口数量; 该数据已根据不同地区的联通市场占有率情</div>
<div class="abs nl" style="top:592.9px;width:479.0px">况进行调整校正; 本次统计不包含港澳台地区<u>。</u> 城市线级根据仲量联行的标准进</div>
<div class="abs nl" style="top:610.8px;text-align-last:left">行划分<u>。</u></div>
<div class="abs" id="src">数据来源: 联通数科<b>–</b>智游文旅大数据平台</div>
<div class="abs" id="brand"><b>DT</b>财经</div>
</body></html>
